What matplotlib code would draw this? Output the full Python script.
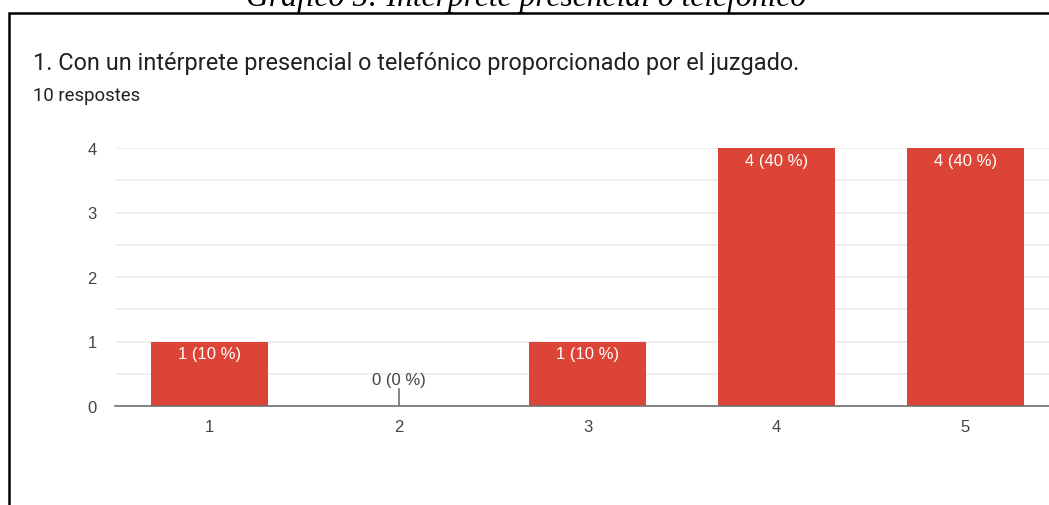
import matplotlib.pyplot as plt
from matplotlib.patches import Rectangle
from matplotlib.lines import Line2D
from matplotlib.ticker import MultipleLocator

plt.rcParams['font.family'] = ['Roboto', 'DejaVu Sans']

categories = ['1', '2', '3', '4', '5']
counts = [1, 0, 1, 4, 4]
total = 10
labels = ['%d (%d %%)' % (c, round(100 * c / total)) for c in counts]

caption = 'Gráfico 5: Intérprete presencial o telefónico'
question = '1. Con un intérprete presencial o telefónico proporcionado por el juzgado.'
subtitle = '%d respostes' % total

chart_font = ['Liberation Sans', 'DejaVu Sans']

W, H = 1049, 506
fig = plt.figure(figsize=(W / 100, H / 100), dpi=100)

# caption sits above the frame, cut at the top edge
fig.text(526 / W, 1 - 6 / H, caption, ha='center', va='baseline',
         family='Liberation Serif', style='italic', fontsize=22.8, color='black')

# frame around the form card
fig.patches.append(Rectangle((9 / W, -0.1), 1.2, 1 - 14 / H + 0.1, transform=fig.transFigure,
                             fill=False, edgecolor='black', linewidth=1.8, clip_on=False))

fig.text(33 / W, 1 - 64 / H, question, ha='left', va='center', fontsize=16.9, color='#202124')
fig.text(33 / W, 1 - 96 / H, subtitle, ha='left', va='center', fontsize=13.3, color='#202124')

ax = fig.add_axes([115 / W, (H - 407) / H, 945 / W, 258 / H])
x = list(range(1, len(categories) + 1))
ax.bar(x, counts, width=0.615, color='#dc4437', linewidth=0, zorder=3)

ax.set_xlim(0.5, 5.5)
ax.set_ylim(0, 4)
ax.yaxis.set_major_locator(MultipleLocator(1))
ax.yaxis.set_minor_locator(MultipleLocator(0.5))
ax.set_xticks(x)
ax.set_xticklabels(categories)
ax.grid(axis='y', which='both', color='#ececec', linewidth=1.2, zorder=0)
ax.set_axisbelow(True)
for s in ['top', 'right', 'left']:
    ax.spines[s].set_visible(False)
ax.spines['bottom'].set_color('#707070')
ax.spines['bottom'].set_linewidth(1.2)
ax.spines['bottom'].set_zorder(4)
ax.tick_params(axis='both', which='both', length=0, labelsize=12, labelcolor='#444444')
ax.tick_params(axis='y', pad=13)
ax.tick_params(axis='x', pad=9.5)
for t in ax.get_xticklabels() + ax.get_yticklabels():
    t.set_family(chart_font)

for xi, c, lab in zip(x, counts, labels):
    if c > 0:
        ax.annotate(lab, (xi, c), xytext=(0, -3.5), textcoords='offset points',
                    ha='center', va='top', color='white', fontsize=12, family=chart_font, zorder=5)
    else:
        ax.add_line(Line2D([xi, xi], [0, 0.27], color='#707070', linewidth=1.2, zorder=5))
        ax.annotate(lab, (xi, 0.27), xytext=(0, 1), textcoords='offset points',
                    ha='center', va='bottom', color='#444444', fontsize=12, family=chart_font, zorder=5)

fig.savefig('out.png', dpi=100, facecolor='white')
